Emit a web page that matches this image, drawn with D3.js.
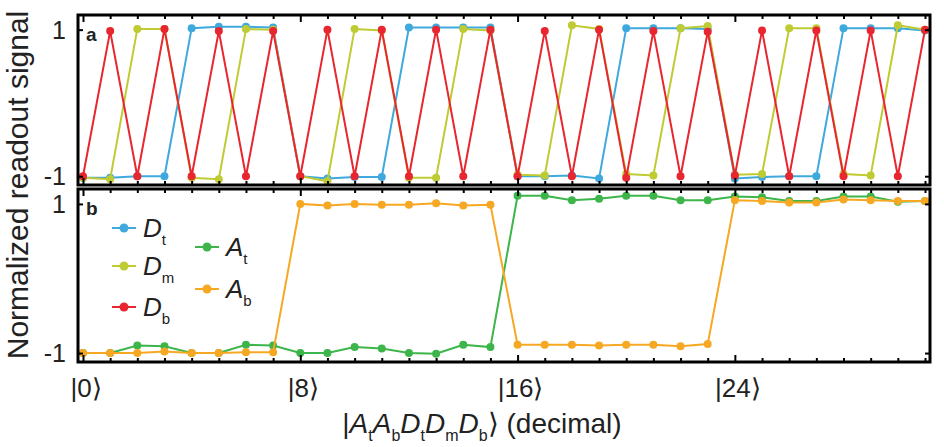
<!DOCTYPE html>
<html>
<head>
<meta charset="utf-8">
<script src="https://cdn.jsdelivr.net/npm/d3@7"></script>
<style>
  body { margin: 0; background: #fff; }
</style>
</head>
<body>
<div id="chart"></div>
<script>
var width = 944,
    height = 447;

// states |At Ab Dt Dm Db> in decimal
var states = d3.range(32);
var tickStates = [0, 8, 16, 24];
var tickLabels = ["|0\u27E9", "|8\u27E9", "|16\u27E9", "|24\u27E9"];
var yTicks = [1, -1];

// panel a
var Dt = [-1.02, -1.02, -1.0, -1.0, 1.02, 1.04, 1.04, 1.03,
          -1.0, -1.03, -1.01, -1.01, 1.03, 1.03, 1.03, 1.03,
          -1.0, -1.0, -0.99, -1.03, 1.02, 1.02, 1.02, 1.01,
          -1.03, -1.01, -1.0, -1.0, 1.02, 1.02, 1.02, 0.99];
var Dm = [-1.02, -1.04, 1.01, 1.01, -1.02, -1.04, 1.01, 1.0,
          -1.0, -1.07, 1.01, 0.99, -1.02, -1.02, 1.01, 0.99,
          -0.98, -0.99, 1.06, 1.01, -0.97, -0.99, 1.02, 1.05,
          -0.98, -0.97, 1.02, 1.02, -0.97, -0.99, 1.06, 1.0];
var Db = [-1.0, 0.98, -1.0, 1.01, -1.0, 0.98, -1.0, 0.98,
          -1.0, 1.0, -1.0, 1.0, -1.0, 1.0, -1.0, 1.0,
          -1.0, 0.98, -1.0, 1.0, -1.02, 0.98, -1.0, 0.97,
          -0.99, 0.99, -1.0, 0.99, -1.0, 0.99, -1.0, 1.0];
// panel b
var At = [-1.0, -1.0, -0.9, -0.91, -1.0, -1.0, -0.89, -0.9,
          -1.0, -1.0, -0.92, -0.94, -1.0, -1.01, -0.89, -0.92,
          1.11, 1.11, 1.05, 1.07, 1.11, 1.11, 1.05, 1.05,
          1.1, 1.09, 1.04, 1.04, 1.1, 1.1, 1.03, 1.04];
var Ab = [-1.0, -1.0, -1.0, -0.98, -1.0, -1.0, -0.99, -0.99,
          1.0, 0.98, 1.0, 0.99, 0.99, 1.01, 0.98, 0.99,
          -0.89, -0.89, -0.89, -0.9, -0.89, -0.89, -0.91, -0.88,
          1.05, 1.04, 1.02, 1.02, 1.06, 1.05, 1.04, 1.04];

var seriesA = [
  {name: "D", sub: "t", color: "#3fa9de", values: Dt},
  {name: "D", sub: "m", color: "#bfcb33", values: Dm},
  {name: "D", sub: "b", color: "#e8262f", values: Db}
];
var seriesB = [
  {name: "A", sub: "t", color: "#3db54a", values: At},
  {name: "A", sub: "b", color: "#f7a823", values: Ab}
];

var left = 78, right = 930;
var font = "'Liberation Sans', Arimo, Arial, Helvetica, sans-serif";

var x = d3.scaleLinear().domain([0, 31]).range([83, 925]);
var yA = d3.scaleLinear().domain([-1.12, 1.2]).range([185, 15]);
var yB = d3.scaleLinear().domain([-1.12, 1.2]).range([362, 189]);

var svg = d3.select("#chart")
    .append("svg")
    .attr("width", width)
    .attr("height", height)
    .attr("font-family", font)
    .style("font-family", font);

function drawPanel(series, y, label) {
  var top = y.range()[1], bottom = y.range()[0];
  var g = svg.append("g");

  var line = d3.line()
      .x(function(d, i) { return x(i); })
      .y(function(d) { return y(d); });

  series.forEach(function(s) {
    g.append("path")
        .datum(s.values)
        .attr("d", line)
        .attr("fill", "none")
        .attr("stroke", s.color)
        .attr("stroke-width", 2);
    g.selectAll(null)
        .data(s.values)
        .enter().append("circle")
        .attr("cx", function(d, i) { return x(i); })
        .attr("cy", function(d) { return y(d); })
        .attr("r", 4)
        .attr("fill", s.color);
  });

  // inner ticks, bottom and top
  var bottomAxis = d3.axisTop(x).tickValues(states).tickSize(4).tickFormat("");
  var topAxis = d3.axisBottom(x).tickValues(states).tickSize(4).tickFormat("");
  var bAx = g.append("g").attr("transform", "translate(0," + bottom + ")").call(bottomAxis);
  var tAx = g.append("g").attr("transform", "translate(0," + top + ")").call(topAxis);
  [bAx, tAx].forEach(function(a) {
    a.select(".domain").remove();
    a.selectAll(".tick line")
        .attr("stroke", "#000")
        .attr("stroke-width", 2)
        .attr("y2", function(d) { return (tickStates.indexOf(d) >= 0 ? 7 : 4) * (a === bAx ? -1 : 1); });
  });

  var leftAxis = d3.axisRight(y).tickValues(yTicks).tickSize(5).tickFormat("");
  var lAx = g.append("g").attr("transform", "translate(" + left + ",0)").call(leftAxis);
  lAx.select(".domain").remove();
  lAx.selectAll(".tick line").attr("stroke", "#000").attr("stroke-width", 2);
  var rightAxis = d3.axisLeft(y).tickValues(yTicks).tickSize(5).tickFormat("");
  var rAx = g.append("g").attr("transform", "translate(" + right + ",0)").call(rightAxis);
  rAx.select(".domain").remove();
  rAx.selectAll(".tick line").attr("stroke", "#000").attr("stroke-width", 2);

  // y tick labels
  g.selectAll(null)
      .data(yTicks)
      .enter().append("text")
      .attr("x", 66)
      .attr("y", function(d) { return y(d); })
      .attr("dy", "0.36em")
      .attr("text-anchor", "end")
      .attr("font-size", 25)
      .attr("fill", "#222")
      .text(function(d) { return d < 0 ? "-" + Math.abs(d) : d; });

  // frame
  g.append("rect")
      .attr("x", left)
      .attr("y", top)
      .attr("width", right - left)
      .attr("height", bottom - top)
      .attr("fill", "none")
      .attr("stroke", "#000")
      .attr("stroke-width", 3);

  g.append("text")
      .attr("x", 86)
      .attr("y", top + 26)
      .attr("font-size", 19)
      .attr("font-weight", "bold")
      .attr("fill", "#222")
      .text(label);
}

drawPanel(seriesA, yA, "a");
drawPanel(seriesB, yB, "b");

// legend
var legendItems = [
  {s: seriesA[0], lx: 124, ly: 228},
  {s: seriesA[1], lx: 124, ly: 266},
  {s: seriesA[2], lx: 124, ly: 307},
  {s: seriesB[0], lx: 207, ly: 247},
  {s: seriesB[1], lx: 207, ly: 289}
];
var leg = svg.append("g");
legendItems.forEach(function(it) {
  leg.append("line")
      .attr("x1", it.lx - 12).attr("x2", it.lx + 12)
      .attr("y1", it.ly).attr("y2", it.ly)
      .attr("stroke", it.s.color).attr("stroke-width", 2);
  leg.append("circle")
      .attr("cx", it.lx).attr("cy", it.ly).attr("r", 4.5)
      .attr("fill", it.s.color);
  var t = leg.append("text")
      .attr("x", it.lx + 19)
      .attr("y", it.ly + 9)
      .attr("fill", "#222");
  t.append("tspan").attr("font-size", 26).attr("font-style", "italic").text(it.s.name);
  t.append("tspan").attr("font-size", 15).attr("dy", 8).text(it.s.sub);
});

// x tick labels
svg.selectAll(".xlab")
    .data(tickStates)
    .enter().append("text")
    .attr("class", "xlab")
    .attr("x", function(d) { return x(d) + 3; })
    .attr("y", 397)
    .attr("text-anchor", "middle")
    .attr("font-size", 26)
    .attr("fill", "#222")
    .text(function(d, i) { return tickLabels[i]; });

// x title
var xt = svg.append("text")
    .attr("x", 482)
    .attr("y", 433)
    .attr("text-anchor", "middle")
    .attr("font-size", 28)
    .attr("fill", "#222");
xt.append("tspan").text("|");
[["A", "t"], ["A", "b"], ["D", "t"], ["D", "m"], ["D", "b"]].forEach(function(p, i) {
  xt.append("tspan").attr("font-style", "italic").attr("dy", i ? -8 : 0).text(p[0]);
  xt.append("tspan").attr("font-size", 16).attr("dy", 8).text(p[1]);
});
xt.append("tspan").attr("dy", -8).text("\u27E9  (decimal)");

// y title
svg.append("text")
    .attr("transform", "translate(28,185) rotate(-90)")
    .attr("text-anchor", "middle")
    .attr("font-size", 30)
    .attr("fill", "#222")
    .text("Normalized readout signal");
</script>
</body>
</html>
